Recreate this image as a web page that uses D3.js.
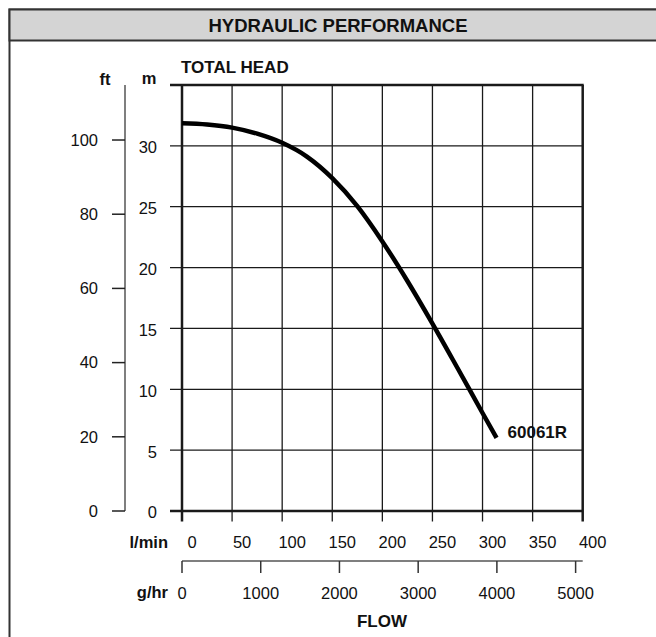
<!DOCTYPE html>
<html>
<head>
<meta charset="utf-8">
<script src="https://cdn.jsdelivr.net/npm/d3@7"></script>
<style>
  body { margin: 0; background: #fff; }
  svg text { font-family: "Liberation Sans", Arial, sans-serif; fill: #111; }
</style>
</head>
<body>
<div id="chart"></div>
<script>
// Pump curve data
const flowLmin = [0, 25, 50, 75, 100, 125, 150, 175, 200, 225, 250, 275, 300, 314];
const headM    = [31.85, 31.75, 31.5, 31.0, 30.25, 29.1, 27.35, 25.05, 22.15, 18.9, 15.4, 11.75, 8.05, 6.0];
const modelName = "60061R";

// Axis ticks
const lminTicks = [0, 50, 100, 150, 200, 250, 300, 350, 400];
const mTicks = [0, 5, 10, 15, 20, 25, 30];
const ftTicks = [0, 20, 40, 60, 80, 100];
const ghrTicks = [0, 1000, 2000, 3000, 4000, 5000];

const M_PER_FT = 0.3048;
const GHR_AT_400 = 5090; // g/hr at the right edge of the lower flow scale

const width = 656, height = 637;

const svg = d3.select("#chart").append("svg")
    .attr("width", width)
    .attr("height", height);

// Outer panel + header band
svg.append("rect")
    .attr("x", 9.5).attr("y", 9.5)
    .attr("width", 660).attr("height", 660)
    .attr("fill", "#fff")
    .attr("stroke", "#333").attr("stroke-width", 2);

svg.append("rect")
    .attr("x", 9.5).attr("y", 9.5)
    .attr("width", 660).attr("height", 31)
    .attr("fill", "#d4d4d4")
    .attr("stroke", "#333").attr("stroke-width", 2);

svg.append("text")
    .attr("x", 338).attr("y", 32)
    .attr("text-anchor", "middle")
    .attr("font-size", 18.5).attr("font-weight", "bold")
    .text("HYDRAULIC PERFORMANCE");

// Scales
const x = d3.scaleLinear().domain([0, 400]).range([182, 582.7]);
const y = d3.scaleLinear().domain([0, 35]).range([511, 85]);
const xG = d3.scaleLinear().domain([0, GHR_AT_400]).range([182, 582.7]);

const grid = svg.append("g");

// horizontal grid lines (m), extending left past the frame
grid.selectAll("line.h")
    .data(mTicks)
    .enter().append("line")
    .attr("x1", 170).attr("x2", x(400))
    .attr("y1", d => y(d)).attr("y2", d => y(d))
    .attr("stroke", "#1a1a1a")
    .attr("stroke-width", d => d === 0 ? 2.5 : 1.3);

// vertical grid lines (l/min), extending below the frame as ticks
grid.selectAll("line.v")
    .data(lminTicks)
    .enter().append("line")
    .attr("x1", d => x(d)).attr("x2", d => x(d))
    .attr("y1", y(35)).attr("y2", 521.5)
    .attr("stroke", "#1a1a1a")
    .attr("stroke-width", d => (d === 0 || d === 400) ? 2.5 : 1.3);

// top frame line
grid.append("line")
    .attr("x1", 170).attr("x2", x(400) + 1)
    .attr("y1", y(35)).attr("y2", y(35))
    .attr("stroke", "#1a1a1a").attr("stroke-width", 2.5);

// m labels
svg.selectAll("text.m")
    .data(mTicks)
    .enter().append("text")
    .attr("x", 157).attr("y", d => y(d))
    .attr("dy", "0.45em")
    .attr("text-anchor", "end")
    .attr("font-size", 16.5)
    .text(d => d);

// ft axis
const ftX = 125;
svg.append("line")
    .attr("x1", ftX).attr("x2", ftX)
    .attr("y1", y(35)).attr("y2", y(0))
    .attr("stroke", "#555").attr("stroke-width", 1.5);

svg.selectAll("line.ft")
    .data(ftTicks)
    .enter().append("line")
    .attr("x1", 112).attr("x2", ftX)
    .attr("y1", d => y(d * M_PER_FT)).attr("y2", d => y(d * M_PER_FT))
    .attr("stroke", "#222").attr("stroke-width", 1.5);

svg.selectAll("text.ft")
    .data(ftTicks)
    .enter().append("text")
    .attr("x", 98).attr("y", d => y(d * M_PER_FT))
    .attr("dy", "0.35em")
    .attr("text-anchor", "end")
    .attr("font-size", 16.5)
    .text(d => d);

// unit labels
svg.append("text").attr("x", 105).attr("y", 85)
    .attr("text-anchor", "middle")
    .attr("font-size", 16.5).attr("font-weight", "bold").text("ft");
svg.append("text").attr("x", 149).attr("y", 84)
    .attr("text-anchor", "middle")
    .attr("font-size", 16.5).attr("font-weight", "bold").text("m");
svg.append("text").attr("x", 181).attr("y", 73)
    .attr("font-size", 17).attr("font-weight", "bold").text("TOTAL HEAD");

// l/min labels
svg.selectAll("text.lmin")
    .data(lminTicks)
    .enter().append("text")
    .attr("x", d => x(d) + 10).attr("y", 548)
    .attr("text-anchor", "middle")
    .attr("font-size", 16.5)
    .text(d => d);
svg.append("text").attr("x", 168).attr("y", 548)
    .attr("text-anchor", "end")
    .attr("font-size", 16.5).attr("font-weight", "bold").text("l/min");

// g/hr axis
const gY = 561;
svg.append("line")
    .attr("x1", xG(0)).attr("x2", xG(GHR_AT_400))
    .attr("y1", gY).attr("y2", gY)
    .attr("stroke", "#555").attr("stroke-width", 1.5);

svg.selectAll("line.ghr")
    .data(ghrTicks)
    .enter().append("line")
    .attr("x1", d => xG(d)).attr("x2", d => xG(d))
    .attr("y1", gY).attr("y2", 573)
    .attr("stroke", "#333").attr("stroke-width", 1.5);

svg.selectAll("text.ghr")
    .data(ghrTicks)
    .enter().append("text")
    .attr("x", d => xG(d)).attr("y", 599)
    .attr("text-anchor", "middle")
    .attr("font-size", 16.5)
    .text(d => d);
svg.append("text").attr("x", 168).attr("y", 598)
    .attr("text-anchor", "end")
    .attr("font-size", 16.5).attr("font-weight", "bold").text("g/hr");

svg.append("text").attr("x", 382).attr("y", 627)
    .attr("text-anchor", "middle")
    .attr("font-size", 17).attr("font-weight", "bold").text("FLOW");

// pump curve
const pts = flowLmin.map((f, i) => [f, headM[i]]);
const line = d3.line()
    .x(d => x(d[0]))
    .y(d => y(d[1]))
    .curve(d3.curveMonotoneX);

svg.append("path")
    .datum(pts)
    .attr("d", line)
    .attr("fill", "none")
    .attr("stroke", "#000")
    .attr("stroke-width", 4.5);

const last = pts[pts.length - 1];
svg.append("text")
    .attr("x", x(last[0]) + 11).attr("y", 438)
    .attr("font-size", 17).attr("font-weight", "bold")
    .text(modelName);
</script>
</body>
</html>
